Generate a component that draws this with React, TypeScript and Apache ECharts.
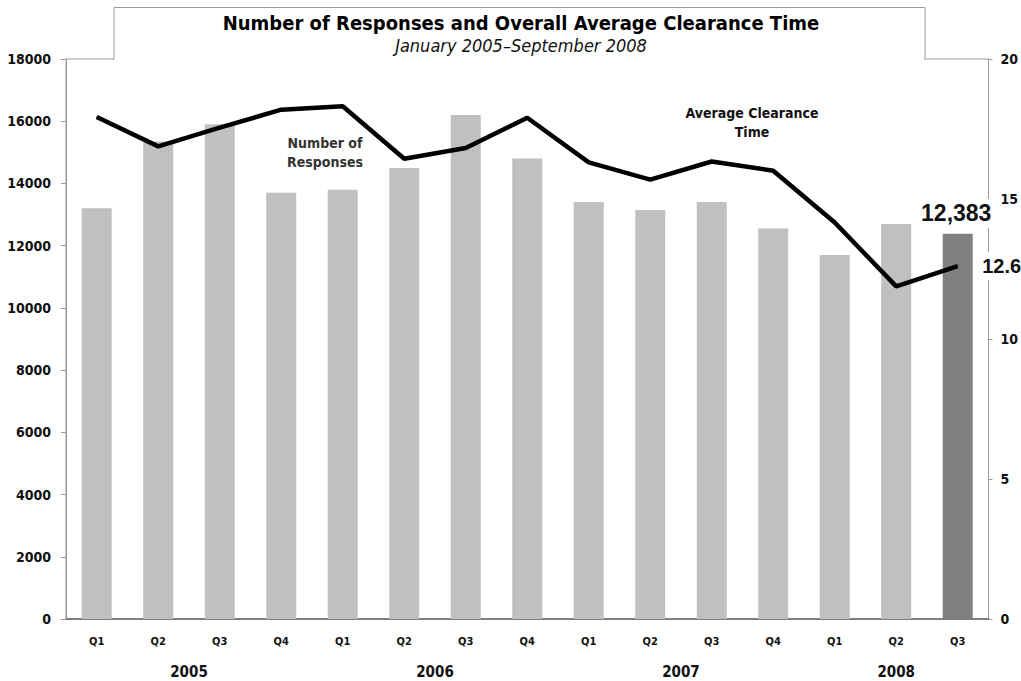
import React, { useEffect, useRef } from "react";
import * as echarts from "echarts";

const quarters = ["Q1", "Q2", "Q3", "Q4", "Q1", "Q2", "Q3", "Q4", "Q1", "Q2", "Q3", "Q4", "Q1", "Q2", "Q3"];
const years = ["2005", "2006", "2007", "2008"];
const yearQuarterCounts = [4, 4, 4, 3];
const responses = [13200, 15350, 15900, 13700, 13800, 14500, 16200, 14800, 13400, 13150, 13400, 12550, 11700, 12700, 12383];
const clearanceTime = [17.93, 16.88, 17.55, 18.19, 18.31, 16.44, 16.82, 17.9, 16.31, 15.69, 16.34, 16.01, 14.16, 11.88, 12.6];
const leftTicks = { min: 0, max: 18000, interval: 2000 };
const rightTicks = { min: 0, max: 20, interval: 5 };
const titleText = "Number of Responses and Overall Average Clearance Time";
const subtitleText = "January 2005\u2013September 2008";

const NARROW = '"Liberation Sans Narrow", "Arial Narrow", "DejaVu Sans Condensed", sans-serif';
const SANS = '"Liberation Sans", Arial, sans-serif';

export default function App() {
  const ref = useRef<HTMLDivElement>(null);
  useEffect(() => {
    document.body.style.margin = "0";
    const chart = echarts.init(ref.current!, null, { renderer: "svg" });
    const last = responses.length - 1;
    const option: any = {
      animation: false,
      backgroundColor: "#fff",
      grid: {
        left: 66, right: 31, top: 59, bottom: 62,
        show: true, borderColor: "#9a9a9a", borderWidth: 1, backgroundColor: "transparent",
      },
      xAxis: {
        type: "category",
        data: quarters,
        axisLine: { lineStyle: { color: "#666", width: 1.5 } },
        axisTick: { show: false },
        axisLabel: { margin: 17, color: "#111", fontFamily: NARROW, fontWeight: "bold", fontSize: 11 },
      },
      yAxis: [
        {
          type: "value", ...leftTicks,
          splitLine: { show: false },
          axisLine: { show: true, lineStyle: { color: "#9a9a9a" } },
          axisTick: { show: true, length: 5, lineStyle: { color: "#9a9a9a" } },
          axisLabel: {
            margin: 15, color: "#111", fontFamily: NARROW, fontWeight: "bold", fontSize: 14,
            formatter: (v: number) => String(v),
          },
        },
        {
          type: "value", ...rightTicks, position: "right",
          splitLine: { show: false },
          axisLine: { show: true, lineStyle: { color: "#9a9a9a" } },
          axisTick: { show: true, length: 4, lineStyle: { color: "#9a9a9a" } },
          axisLabel: { margin: 12, color: "#111", fontFamily: NARROW, fontWeight: "bold", fontSize: 14 },
        },
      ],
      series: [
        {
          type: "bar",
          yAxisIndex: 0,
          barWidth: 30,
          z: 2,
          data: responses.map((v, i) =>
            i === last
              ? {
                  value: v,
                  itemStyle: { color: "#808080" },
                  label: {
                    show: true, position: "top", distance: 6,
                    formatter: (p: any) => Number(p.value).toLocaleString("en-US"),
                    fontFamily: SANS, fontWeight: "bold", fontSize: 23, color: "#111",
                    backgroundColor: "#fff", padding: [3, 6, 3, 3],
                  },
                }
              : { value: v, itemStyle: { color: "#c0c0c0" } }
          ),
        },
        {
          type: "line",
          yAxisIndex: 1,
          z: 3,
          symbol: "circle",
          symbolSize: 1,
          itemStyle: { color: "#000" },
          lineStyle: { color: "#000", width: 4.5 },
          data: clearanceTime.map((v, i) =>
            i === last
              ? {
                  value: v,
                  label: {
                    show: true, position: "right", distance: 22,
                    formatter: (p: any) => Number(p.value).toFixed(1),
                    fontFamily: SANS, fontWeight: "bold", fontSize: 20, color: "#111",
                    backgroundColor: "#fff", padding: [4, 4, 4, 2],
                  },
                }
              : v
          ),
        },
      ],
    };
    chart.setOption(option);

    // year labels centred under their quarters
    const yearGraphics: any[] = [];
    let start = 0;
    years.forEach((y, k) => {
      const n = yearQuarterCounts[k];
      const x0 = chart.convertToPixel({ xAxisIndex: 0 }, start) as number;
      const x1 = chart.convertToPixel({ xAxisIndex: 0 }, start + n - 1) as number;
      yearGraphics.push({
        type: "text", x: (x0 + x1) / 2, y: 672,
        style: { text: y, align: "center", verticalAlign: "middle", font: `bold 15px ${NARROW}`, fill: "#111" },
      });
      start += n;
    });

    chart.setOption({
      graphic: [
        { type: "rect", shape: { x: 114, y: 7, width: 811, height: 53 }, style: { fill: "#fff" }, z: 10 },
        {
          type: "polyline", shape: { points: [[114, 59.5], [114, 7.5], [925, 7.5], [925, 59.5]] },
          style: { stroke: "#9a9a9a", lineWidth: 1, fill: null }, z: 11,
        },
        {
          type: "text", x: 521, y: 23, z: 12,
          style: { text: titleText, align: "center", verticalAlign: "middle", font: `bold 20px ${NARROW}`, fill: "#000" },
        },
        {
          type: "text", x: 521, y: 45, z: 12,
          style: { text: subtitleText, align: "center", verticalAlign: "middle", font: `italic 18px ${NARROW}`, fill: "#111" },
        },
        {
          type: "text", x: 325, y: 152, z: 12,
          style: { text: "Number of\nResponses", align: "center", verticalAlign: "middle", lineHeight: 19, font: `bold 14px ${NARROW}`, fill: "#333" },
        },
        {
          type: "text", x: 752, y: 122, z: 12,
          style: { text: "Average Clearance\nTime", align: "center", verticalAlign: "middle", lineHeight: 19, font: `bold 14px ${NARROW}`, fill: "#111" },
        },
        ...yearGraphics,
      ],
    });
    return () => chart.dispose();
  }, []);
  return <div ref={ref} style={{ position: "absolute", left: 0, top: 0, width: 1021, height: 681 }} />;
}
